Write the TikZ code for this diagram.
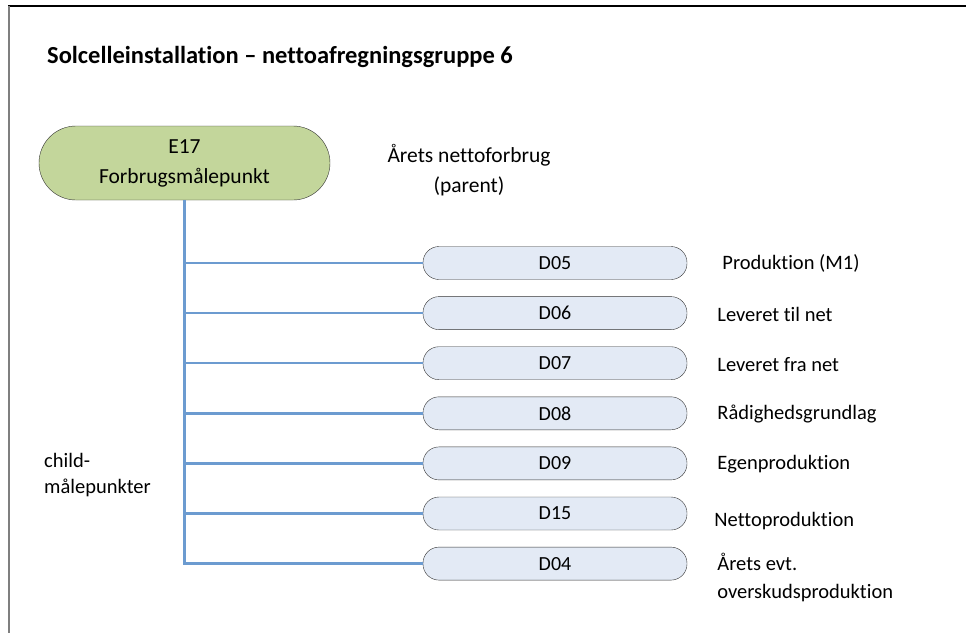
\documentclass[tikz,border=0pt]{standalone}
\usepackage{fontspec}
\setmainfont{Carlito}[Ligatures={NoCommon,TeX}]
\usepackage{xcolor}
\usetikzlibrary{positioning}
\definecolor{ParentGreen}{HTML}{C3D69B}
\definecolor{ChildBlue}{HTML}{E3EAF5}
\definecolor{LinkBlue}{HTML}{6C9BD0}
\definecolor{FrameGray}{HTML}{7F7F7F}

\begin{document}
\begin{tikzpicture}[x=1pt,y=-1pt,
  parent/.style={rectangle,rounded corners=37pt,draw=black!80,fill=ParentGreen,
                 minimum width=291pt,minimum height=74pt,align=center,
                 font=\fontsize{21.5}{32}\selectfont},
  child/.style={rectangle,rounded corners=16pt,draw=black!80,fill=ChildBlue,
                minimum width=264pt,minimum height=33pt,inner sep=0pt,
                font=\fontsize{20}{24}\selectfont},
  lbl/.style={anchor=west,align=left,inner sep=0pt,
              font=\fontsize{20.5}{28}\selectfont},
  link/.style={draw=LinkBlue,line width=2.4pt}]
\useasboundingbox (0,0) rectangle (966,633);
% frame, cut off at the right and bottom
\draw[line width=2pt] (8,6) -- (966,6);
\draw[FrameGray,line width=2pt] (9,6) -- (9,633);
\node[anchor=west,inner sep=0pt,font=\fontsize{24.5}{28}\selectfont\bfseries]
  (title) at (47,57) {Solcelleinstallation -- nettoafregningsgruppe 6};
\node[parent] (e17) at (184.5,163) {\raisebox{-2pt}{E17}\\Forbrugsmålepunkt};
\node[lbl,anchor=center,align=center,font=\fontsize{21.5}{30}\selectfont]
  (parentlbl) at (469,170) {Årets nettoforbrug\\(parent)};
% child metering points
\node[child] (d05) at (555,263) {D05};
\node[child,below=16.7pt of d05] (d06) {D06};
\node[child,below=16.7pt of d06] (d07) {D07};
\node[child,below=16.7pt of d07] (d08) {D08};
\node[child,below=16.7pt of d08] (d09) {D09};
\node[child,below=16.7pt of d09] (d15) {D15};
\node[child,below=16.7pt of d15] (d04) {D04};
\node[lbl,right=35pt of d05.east] (l05) {Produktion (M1)};
\node[lbl,right=30pt of d06.east,yshift=-1pt] (l06) {Leveret til net};
\node[lbl,right=30pt of d07.east,yshift=-1pt] (l07) {Leveret fra net};
\node[lbl,right=30pt of d08.east,yshift=-1pt] (l08) {Rådighedsgrundlag};
\node[lbl,right=30pt of d09.east,yshift=-1pt] (l09) {Egenproduktion};
\node[lbl,right=27pt of d15.east,yshift=-8pt] (l15) {Nettoproduktion};
\node[lbl,anchor=north west,right=30pt of d04.east,yshift=-14pt]
  (l04) {Årets evt.\\overskudsproduktion};
\node[lbl,anchor=north west,font=\fontsize{20.5}{26}\selectfont]
  (childlbl) at (44,453) {child-\\målepunkter};
\foreach \c in {d05,d06,d07,d08,d09,d15,d04}
  \draw[link] (e17.south) |- (\c.west);
\end{tikzpicture}
\end{document}
